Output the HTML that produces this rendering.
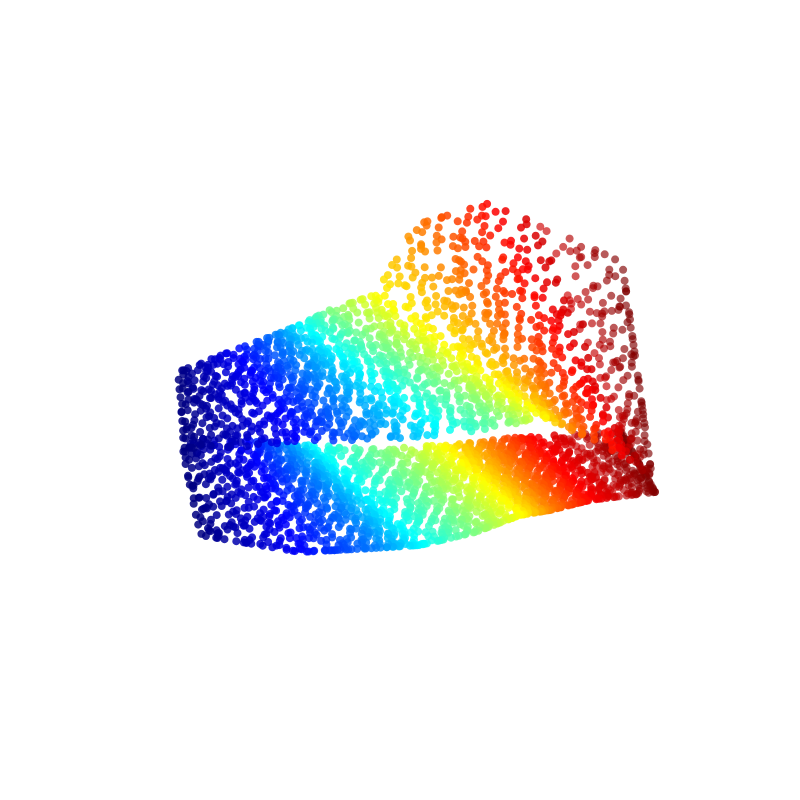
<!DOCTYPE html>
<html><head><meta charset="utf-8"><style>
html,body{margin:0;padding:0;background:#fff;}
svg{display:block;}
</style></head>
<body>
<svg id="chart" width="800" height="800" viewBox="0 0 800 800">
<g id="points"></g>
</svg>
<script>
// Position along the S-curve (0 = start, 1 = end), which also sets the colour
const curveParams = [0.00,0.02,0.045,0.06,0.085,0.1,0.12,0.14,0.165,0.18,0.2,0.22,0.24,0.26,0.285,0.3,0.32,0.345,0.36,0.38,0.405,0.42,0.44,0.46,0.48,0.5,0.52,0.545,0.56,0.58,0.6,0.62,0.64,0.665,0.68,0.7,0.72,0.745,0.76,0.78,0.8,0.82,0.845,0.86,0.88,0.9,0.92,0.945,0.96,0.98,1.0];
// Depth coordinate (0..2) across the sheet
const depthValues = [0.0,0.09,0.2,0.28,0.37,0.46,0.55,0.66,0.74,0.83,0.92,1.01,1.1,1.2,1.28,1.37,1.46,1.55,1.65,1.73,1.82,1.91,2.0];
const jitterA = [0.31,-0.22,0.07,-0.41,0.18,-0.05,0.44,-0.33,0.12];
const jitterB = [-0.12,0.27,-0.38,0.05,0.35,-0.2,0.14,-0.45,0.22,0.02,-0.29];

// Projection of the two visible sheets: upper sheet (top edge -> fold), lower sheet (fold -> bottom edge)
const ctrlU = [0,0.125,0.25,0.375,0.5,0.625,0.75,0.875,1];
const edgeTop = [[178,372],[235,350],[275,335],[300,325],[330,310],[375,295],[415,225],[490,203],[622,262]];
const edgeFoldUp = [[185,452],[300,442],[370,440],[450,436],[510,425],[545,418],[575,432],[620,455],[652,478]];
const edgeFoldLow = [[180,436],[245,440],[280,442],[310,445],[380,448],[440,445],[485,440],[530,436],[620,430]];
const edgeBot = [[200,535],[300,552],[375,548],[420,545],[475,532],[520,515],[550,510],[590,500],[655,492]];

function jet(v){
  const c=x=>Math.max(0,Math.min(1,x));
  const r=c(1.5-Math.abs(4*v-3)), g=c(1.5-Math.abs(4*v-2)), b=c(1.5-Math.abs(4*v-1));
  return `rgb(${Math.round(r*255)},${Math.round(g*255)},${Math.round(b*255)})`;
}
function edgeAt(edge,u){
  for(let k=0;k<ctrlU.length-1;k++){
    if(u<=ctrlU[k+1]){
      const f=(u-ctrlU[k])/(ctrlU[k+1]-ctrlU[k]);
      return [edge[k][0]+(edge[k+1][0]-edge[k][0])*f, edge[k][1]+(edge[k+1][1]-edge[k][1])*f];
    }
  }
  return edge[edge.length-1];
}
function project(u,h){
  if(h<=1){const a=edgeAt(edgeTop,u),b=edgeAt(edgeFoldUp,u);return [a[0]+(b[0]-a[0])*h,a[1]+(b[1]-a[1])*h];}
  const a=edgeAt(edgeFoldLow,u),b=edgeAt(edgeBot,u),f=h-1;return [a[0]+(b[0]-a[0])*f,a[1]+(b[1]-a[1])*f];
}
const pts=[];
[0,1,2].forEach(pass=>{
  curveParams.forEach((u,i)=>{
    depthValues.forEach((d,j)=>{
      const du = jitterA[(i*2+j*5+pass*4)%jitterA.length]*0.03 + pass*0.007;
      const uu = Math.max(0,Math.min(1,u+du));
      const h = Math.max(0,Math.min(2,d + jitterB[(i*7+j*3+pass*5)%jitterB.length]*0.12 + pass*0.03));
      const [sx,sy]=project(uu,h);
      pts.push({sx,sy,uu});
    });
  });
});
pts.sort((a,b)=>b.uu-a.uu);
const g=document.getElementById('points');
const NS='http://www.w3.org/2000/svg';
pts.forEach(p=>{
  const c=document.createElementNS(NS,'circle');
  c.setAttribute('cx',p.sx.toFixed(1));
  c.setAttribute('cy',p.sy.toFixed(1));
  c.setAttribute('r','4');
  c.setAttribute('fill',jet(p.uu));
  c.setAttribute('fill-opacity', p.uu>0.92 ? '0.65' : '0.85');
  
  
  g.appendChild(c);
});
</script>
</body></html>
